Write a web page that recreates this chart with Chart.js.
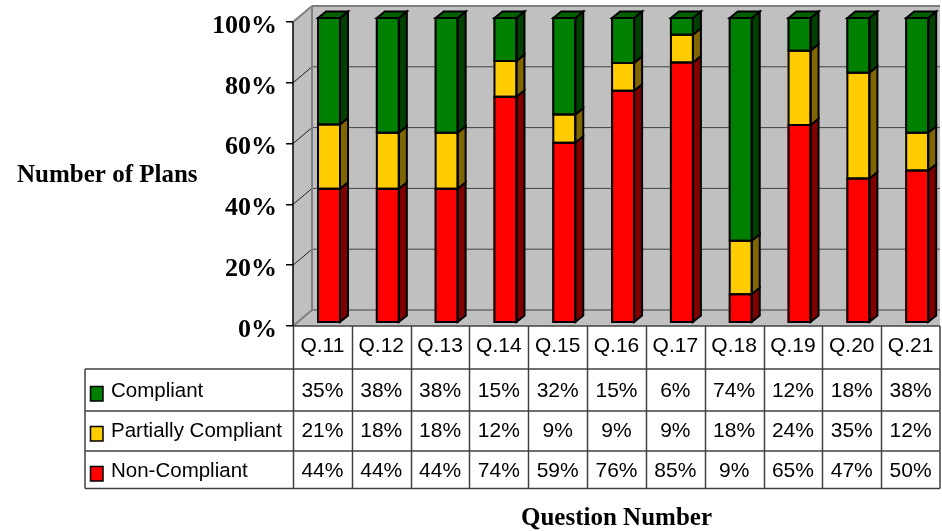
<!DOCTYPE html>
<html><head><meta charset="utf-8">
<script src="https://cdn.jsdelivr.net/npm/chart.js@4"></script>
<style>html,body{margin:0;padding:0;background:#fff;overflow:hidden}canvas{display:block}</style>
</head><body><canvas id="c" width="942" height="531"></canvas>
<script>
const categories=['Q.11','Q.12','Q.13','Q.14','Q.15','Q.16','Q.17','Q.18','Q.19','Q.20','Q.21'];
// Printed in the data table
const compliantLabels=[35,38,38,15,32,15,6,74,12,18,38];
const partialLabels=[21,18,18,12,9,9,9,18,24,35,12];
const nonCompliantLabels=[44,44,44,74,59,76,85,9,65,47,50];
// Bar segment heights
const compliant=[35.1,37.8,37.8,14.4,31.9,15.0,5.8,73.1,11.0,18.2,37.8];
const partial=[21.0,18.3,18.3,11.7,9.2,9.1,9.1,17.5,24.3,34.6,12.4];
const nonCompliant=[43.9,43.9,43.9,73.9,58.9,75.9,85.1,9.4,64.7,47.2,49.8];
const yTicks=[0,20,40,60,80,100];
const SERIF='"Liberation Serif","Times New Roman",serif', SANS='"Liberation Sans",Arial,sans-serif';
const DX=19,DY=-16,BX=6.6,SDX=8,SDY=-6.5;
const series=[
 {label:'Non-Compliant',data:nonCompliant,raw:nonCompliantLabels,front:'#ff0000',side:'#800000',top:'#a00000'},
 {label:'Partially Compliant',data:partial,raw:partialLabels,front:'#ffcc00',side:'#806600',top:'#a08000'},
 {label:'Compliant',data:compliant,raw:compliantLabels,front:'#008000',side:'#004000',top:'#006000'}
];
const poly=(ctx,pts,fill,stroke,w)=>{ctx.beginPath();pts.forEach((p,i)=>i?ctx.lineTo(p[0],p[1]):ctx.moveTo(p[0],p[1]));ctx.closePath();
 if(fill){ctx.fillStyle=fill;ctx.fill();} if(stroke){ctx.strokeStyle=stroke;ctx.lineWidth=w;ctx.stroke();}};
const line=(ctx,a,b,c,d,col,w)=>{ctx.beginPath();ctx.moveTo(a,b);ctx.lineTo(c,d);ctx.strokeStyle=col;ctx.lineWidth=w;ctx.stroke();};
const scene={id:'scene',
 beforeDraw(ch){const c=ch.ctx,a=ch.chartArea,y=ch.scales.y;
  const t=y.getPixelForValue(100),b=y.getPixelForValue(0);
  c.save();
  poly(c,[[a.left+DX,a.top],[a.right,a.top],[a.right,b],[a.left,b],[a.left,t],[a.left+DX,t+DY]],'#c0c0c0');
  yTicks.forEach(v=>{const p=y.getPixelForValue(v);
    if(v>0&&v<100)line(c,a.left+DX,p+DY,a.right,p+DY,'#404040',1);
    if(v>0&&v<100)line(c,a.left,p,a.left+DX,p+DY,'#202020',1);});
  line(c,a.left+DX,a.top,a.right,a.top,'#808080',2);
  line(c,a.left+DX,a.top,a.left+DX,b+DY,'#808080',2);
  line(c,a.left,t,a.left+DX,a.top,'#808080',2);
  line(c,a.left+DX,b+DY,a.right,b+DY,'#808080',2);
  line(c,a.left,b,a.left+DX,b+DY,'#808080',2);
  line(c,a.left,t,a.left,b,'#000',1.5);
  c.restore();},
 beforeDatasetsDraw(ch){ch.ctx.save();ch.ctx.translate(BX,0);},
 afterDatasetsDraw(ch){const c=ch.ctx,last=series.length-1;
  series.forEach((s,si)=>{ch.getDatasetMeta(si).data.forEach(el=>{
    const r=el.x+el.width/2-1,l=el.x-el.width/2+1;
    const t=si===last?el.y+1:el.y, b=si===0?el.base-1:el.base;
    poly(c,[[r,t],[r+SDX,t+SDY],[r+SDX,b+SDY],[r,b]],s.side,'#000',2);
    if(si===last)poly(c,[[l,t],[l+SDX,t+SDY],[r+SDX,t+SDY],[r,t]],s.top,'#000',2);
    poly(c,[[l,t],[r,t],[r,b],[l,b]],null,'#000',2);
  });});
  c.restore();},
 afterDraw(ch){const c=ch.ctx,x=ch.scales.x,a=ch.chartArea;
  const rows=[369,411,451,488.5],top=a.bottom,left=85;
  const cw=x.getPixelForValue(1)-x.getPixelForValue(0);
  const edge=i=>x.getPixelForValue(0)-cw/2+i*cw;
  c.save();
  const col='#404040';
  line(c,a.left,top,a.right,top,col,1.5);
  rows.forEach(r=>line(c,left,r,a.right,r,col,1.5));
  line(c,left,rows[0],left,rows[3],col,1.5);
  categories.forEach((_,i)=>line(c,Math.round(edge(i))+.5,top,Math.round(edge(i))+.5,rows[3],col,1.5));
  line(c,a.right,top,a.right,rows[3],col,1.5);
  const order=[series[2],series[1],series[0]],cy=[390,430,470],sy=[386,426,466];
  c.textBaseline='middle';c.fillStyle='#000';
  order.forEach((s,ri)=>{
    c.fillStyle=s.front;c.fillRect(90.5,sy[ri]+.5,12.5,14.5);
    c.strokeStyle='#000';c.lineWidth=1.5;c.strokeRect(90.5,sy[ri]+.5,12.5,14.5);
    c.fillStyle='#000';c.textAlign='left';c.font='20.5px '+SANS;c.fillText(s.label,111,cy[ri]+1);
    c.textAlign='center';c.font='21px '+SANS;
    s.raw.forEach((v,i)=>c.fillText(v+'%',x.getPixelForValue(i),cy[ri]+1));
  });
  c.font='bold 25px '+SERIF;c.textAlign='left';
  c.fillText('Number of Plans',17,176);
  c.fillText('Question Number',521,519);
  c.restore();}
};
new Chart(document.getElementById('c'),{
 type:'bar',
 data:{labels:categories,datasets:series.map(s=>({label:s.label,data:s.data,backgroundColor:s.front,borderWidth:0,yAxisID:'yBar',xAxisID:'x',stack:'s',barPercentage:0.408,categoryPercentage:1}))},
 plugins:[scene],
 options:{responsive:false,animation:false,
  layout:{autoPadding:false,padding:{top:6,right:2,left:0,bottom:0}},
  plugins:{legend:{display:false},tooltip:{enabled:false},title:{display:false}},
  scales:{
   x:{stacked:true,offset:true,grid:{display:false},border:{display:false},
      afterFit(s){s.height=205;s.paddingLeft=0;s.paddingRight=0;},
      ticks:{color:'#000',font:{family:SANS,size:21},padding:0,maxRotation:0,autoSkip:false}},
   y:{position:'left',min:0,max:320/304*100,afterFit(s){s.width=293;s.paddingTop=0;s.paddingBottom=0;},
      afterBuildTicks(s){s.ticks=yTicks.map(v=>({value:v}));},
      grid:{drawOnChartArea:false,drawTicks:true,tickLength:7,color:'#000',lineWidth:1.5},
      border:{display:false},
      ticks:{color:'#000',font:{family:SERIF,size:26,weight:'bold'},padding:9,labelOffset:4,callback:v=>v+'%'}},
   yBar:{display:false,stacked:true,min:-0.98,max:103.59}
  }
 },
});
</script></body></html>
